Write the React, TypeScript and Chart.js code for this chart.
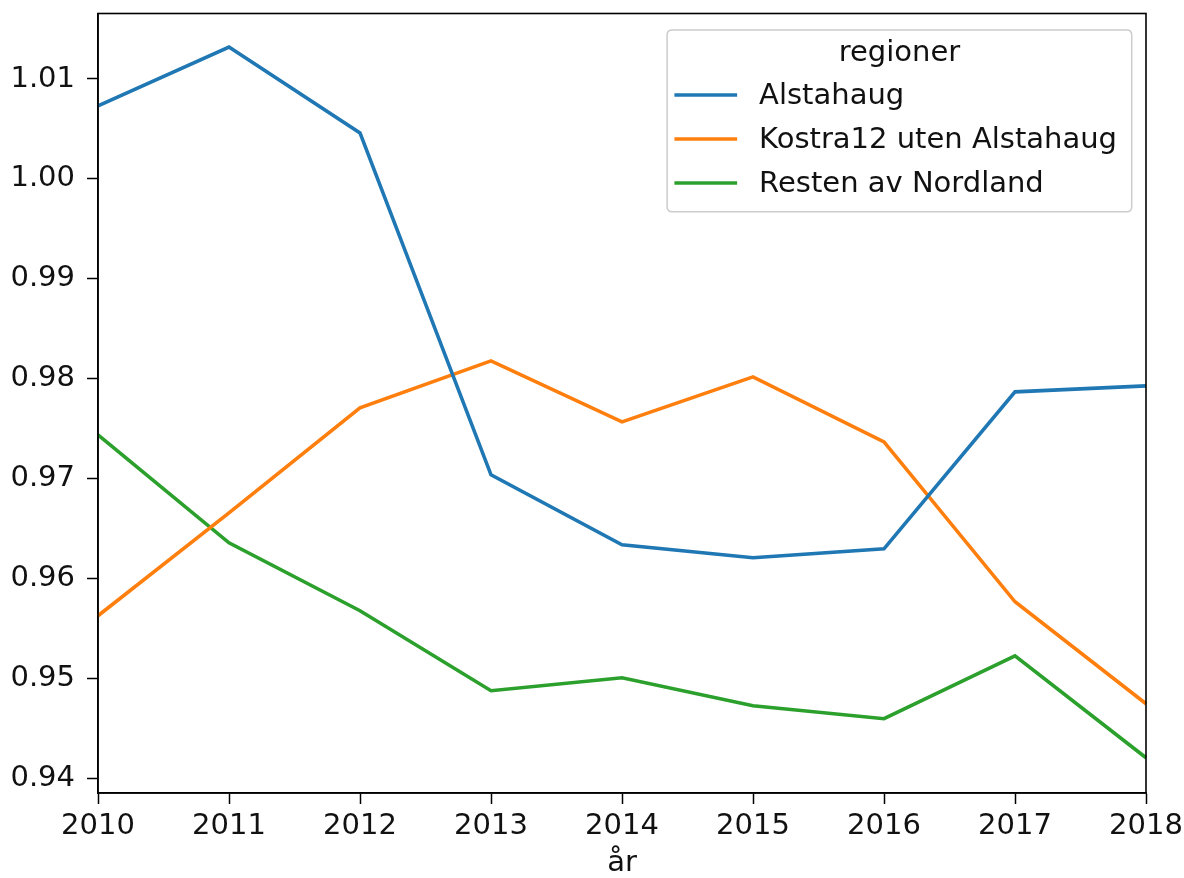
import React, { useEffect, useRef } from 'react';
import { Chart, registerables } from 'chart.js';

Chart.register(...registerables);

const years = ['2010', '2011', '2012', '2013', '2014', '2015', '2016', '2017', '2018'];
const alstahaug = [1.0073, 1.0132, 1.0046, 0.9704, 0.9634, 0.9621, 0.963, 0.9787, 0.9793];
const kostra12 = [0.9563, 0.9666, 0.9771, 0.9818, 0.9757, 0.9802, 0.9737, 0.9577, 0.9475];
const resten = [0.9744, 0.9636, 0.9568, 0.9488, 0.9501, 0.9473, 0.946, 0.9523, 0.9421];
const yTicks = [0.94, 0.95, 0.96, 0.97, 0.98, 0.99, 1.0, 1.01];
const seriesNames = ['Alstahaug', 'Kostra12 uten Alstahaug', 'Resten av Nordland'];
const seriesColors = ['#1f77b4', '#ff7f0e', '#2ca02c'];
const legendTitle = 'regioner';
const xTitle = 'år';
const yMin = 0.93857;
const yMax = 1.01655;

const FONT = "'DejaVu Sans', sans-serif";
const FS = 29;

const framePlugin = {
  id: 'frameAndLegend',
  afterDatasetsDraw(chart: any) {
    const { ctx, chartArea: a } = chart;
    ctx.save();
    ctx.strokeStyle = '#000';
    ctx.lineWidth = 1.6;
    ctx.strokeRect(a.left, a.top, a.right - a.left, a.bottom - a.top);

    // legend
    ctx.font = `${FS}px ${FONT}`;
    const labels = chart.data.datasets.map((d: any) => d.label as string);
    const textW = Math.max(...labels.map((l: string) => ctx.measureText(l).width));
    const padL = 7.3, handleW = 62.7, gap = 22, padR = 14.7;
    const x1 = a.right - 14.3;
    const x0 = x1 - (padL + handleW + gap + textW + padR);
    const y0 = a.top + 16.5;
    const boxH = 181.7;
    const r = 5;
    ctx.beginPath();
    ctx.moveTo(x0 + r, y0);
    ctx.lineTo(x1 - r, y0);
    ctx.quadraticCurveTo(x1, y0, x1, y0 + r);
    ctx.lineTo(x1, y0 + boxH - r);
    ctx.quadraticCurveTo(x1, y0 + boxH, x1 - r, y0 + boxH);
    ctx.lineTo(x0 + r, y0 + boxH);
    ctx.quadraticCurveTo(x0, y0 + boxH, x0, y0 + boxH - r);
    ctx.lineTo(x0, y0 + r);
    ctx.quadraticCurveTo(x0, y0, x0 + r, y0);
    ctx.closePath();
    ctx.fillStyle = 'rgba(255,255,255,0.8)';
    ctx.fill();
    ctx.strokeStyle = '#cccccc';
    ctx.lineWidth = 1.5;
    ctx.stroke();

    ctx.fillStyle = '#111';
    ctx.textBaseline = 'middle';
    ctx.textAlign = 'center';
    ctx.fillText(legendTitle, (x0 + x1) / 2, y0 + 23);
    ctx.textAlign = 'left';
    chart.data.datasets.forEach((d: any, i: number) => {
      const cy = y0 + 65 + i * 44;
      ctx.strokeStyle = d.borderColor;
      ctx.lineWidth = d.borderWidth;
      ctx.beginPath();
      ctx.moveTo(x0 + padL, cy);
      ctx.lineTo(x0 + padL + handleW, cy);
      ctx.stroke();
      ctx.fillStyle = '#111';
      ctx.fillText(d.label, x0 + padL + handleW + gap, cy + 1.5);
    });
    ctx.restore();
  },
};

export default function App() {
  const ref = useRef<HTMLCanvasElement | null>(null);

  useEffect(() => {
    document.body.style.margin = '0';
    const canvas = ref.current;
    if (!canvas) return;
    const seriesData = [alstahaug, kostra12, resten];
    const chart = new Chart(canvas, {
      type: 'line',
      data: {
        labels: years,
        datasets: seriesNames.map((name, i) => ({
          label: name,
          data: seriesData[i],
          borderColor: seriesColors[i],
          backgroundColor: seriesColors[i],
          borderWidth: 3.6,
          pointRadius: 0,
          tension: 0,
          fill: false,
        })),
      },
      options: {
        responsive: false,
        animation: false,
        devicePixelRatio: 1,
        layout: { padding: { top: 13.5, right: 38, left: 0, bottom: 0 } },
        plugins: {
          legend: { display: false },
          tooltip: { enabled: false },
          title: { display: false },
        },
        scales: {
          x: {
            type: 'category',
            offset: false,
            grid: {
              display: true,
              drawOnChartArea: false,
              drawTicks: true,
              tickLength: 11,
              tickWidth: 1.5,
              tickColor: '#000',
              offset: false,
            },
            border: { display: true, color: '#000', width: 1.6 },
            ticks: {
              color: '#111',
              font: { family: FONT, size: FS },
              padding: 5,
              maxRotation: 0,
              autoSkip: false,
            },
            title: {
              display: true,
              text: xTitle,
              color: '#111',
              font: { family: FONT, size: FS, lineHeight: 1 },
              padding: { top: 0, bottom: 0.5 },
            },
            afterFit: (s: any) => {
              s.height = 85;
              s.paddingLeft = 0;
              s.paddingRight = 0;
            },
          },
          y: {
            type: 'linear',
            min: yMin,
            max: yMax,
            grid: {
              display: true,
              drawOnChartArea: false,
              drawTicks: true,
              tickLength: 11,
              tickWidth: 1.5,
              tickColor: '#000',
            },
            border: { display: true, color: '#000', width: 1.6 },
            ticks: {
              color: '#111',
              font: { family: FONT, size: FS },
              padding: 12,
              callback: (v: any) => Number(v).toFixed(2),
            },
            afterBuildTicks: (s: any) => {
              s.ticks = yTicks.map((v) => ({ value: v }));
            },
            afterFit: (s: any) => {
              s.width = 98;
              s.paddingTop = 0;
              s.paddingBottom = 0;
            },
          },
        },
      },
      plugins: [framePlugin],
    });
    return () => chart.destroy();
  }, []);

  return (
    <div style={{ width: 1184, height: 878, background: '#fff' }}>
      <canvas ref={ref} width={1184} height={878} style={{ display: 'block' }} />
    </div>
  );
}
